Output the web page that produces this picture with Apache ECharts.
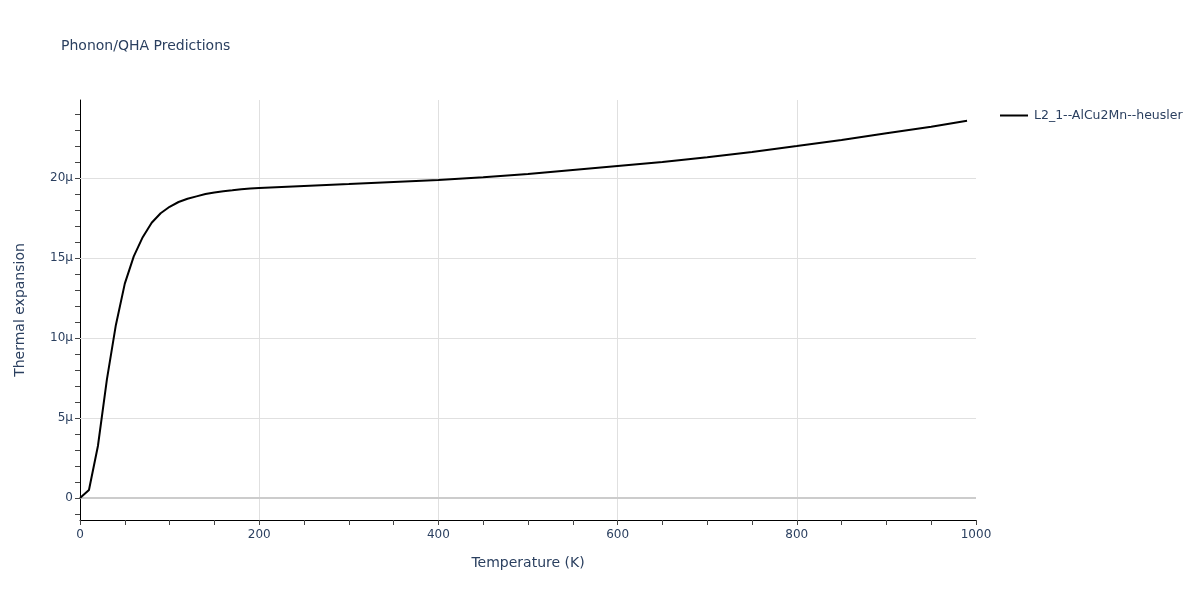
<!DOCTYPE html>
<html>
<head>
<meta charset="utf-8">
<script src="https://cdn.jsdelivr.net/npm/echarts@6/dist/echarts.min.js"></script>
<style>html,body{margin:0;padding:0;background:#fff}#c{width:1200px;height:600px}</style>
</head>
<body>
<div id="c"></div>
<script>
// Temperature (K)
const temperatures = [0,10,20,30,40,50,60,70,80,90,100,110,120,130,140,150,160,170,180,190,200,250,300,350,400,450,500,550,600,650,700,750,800,850,900,950,990];
// Thermal expansion in units of 1e-6 (μ)
const expansion = [0,0.5,3.25,7.4,10.8,13.4,15.1,16.3,17.2,17.8,18.2,18.5,18.7,18.85,19.0,19.1,19.17,19.23,19.3,19.35,19.38,19.5,19.62,19.75,19.88,20.05,20.25,20.5,20.75,21.0,21.3,21.63,22.0,22.38,22.8,23.2,23.58];
const seriesName = 'L2_1--AlCu2Mn--heusler';
const yTickLabels = [0,5,10,15,20];
const yMinorTicks = [-1,0,1,2,3,4,5,6,7,8,9,10,11,12,13,14,15,16,17,18,19,20,21,22,23,24];
const yGridLines = [5,10,15,20];

const font = '"DejaVu Sans", Verdana, sans-serif';
const txt = '#2a3f5f';
const chart = echarts.init(document.getElementById('c'));
chart.setOption({
  animation: false,
  backgroundColor: '#fff',
  textStyle: {fontFamily: font},
  title: {text: 'Phonon/QHA Predictions', left: 56, top: 34,
    textStyle: {fontFamily: font, fontSize: 14, fontWeight: 'normal', color: txt}},
  legend: {left: 995, top: 104, itemWidth: 28, itemHeight: 14, itemGap: 10,
    textStyle: {fontFamily: font, fontSize: 12.5, color: txt, padding: [0,0,0,1]},
    data: [{name: seriesName, icon: 'path://M0,6 L28,6 L28,8 L0,8 Z'}]},
  grid: {left: 80, right: 224, top: 100, bottom: 80, outerBoundsMode: 'none'},
  xAxis: {type: 'value', min: 0, max: 1000, interval: 200,
    name: 'Temperature (K)', nameLocation: 'middle', nameGap: 36,
    nameTextStyle: {fontFamily: font, fontSize: 14, color: txt},
    axisLine: {show: true, onZero: false, lineStyle: {color: '#000', width: 1}},
    axisTick: {show: true, length: 5, lineStyle: {color: '#444'}},
    minorTick: {show: true, splitNumber: 4, length: 5, lineStyle: {color: '#444'}},
    axisLabel: {margin: 9, fontFamily: font, fontSize: 12, color: txt, formatter: v => String(v)},
    splitLine: {show: true, showMinLine: false, showMaxLine: false, lineStyle: {color: '#e0e0e0', width: 1}}
  },
  yAxis: {type: 'value', min: -1.375, max: 24.875,
    name: 'Thermal expansion', nameLocation: 'middle', nameGap: 53,
    nameTextStyle: {fontFamily: font, fontSize: 14, color: txt},
    axisLine: {show: true, onZero: false, lineStyle: {color: '#000', width: 1}},
    axisTick: {show: true, length: 5, customValues: yMinorTicks, lineStyle: {color: '#444'}},
    axisLabel: {margin: 7, fontFamily: font, fontSize: 12, color: txt, customValues: yTickLabels,
      formatter: v => v === 0 ? '0' : v + 'μ'},
    splitLine: {show: false}
  },
  series: [
    {type: 'line', name: 'grid', silent: true, z: 1, data: [], symbol: 'none',
      markLine: {silent: true, symbol: ['none','none'], label: {show: false}, animation: false,
        data: yGridLines.map(v => ({yAxis: v, lineStyle: {color: '#e0e0e0', width: 1, type: 'solid'}}))
          .concat([{yAxis: 0, lineStyle: {color: '#cccccc', width: 2, type: 'solid'}}])}},
    {type: 'line', name: seriesName, z: 5, symbol: 'none', smooth: false,
      lineStyle: {color: '#000', width: 2}, itemStyle: {color: '#000'},
      data: temperatures.map((t, i) => [t, expansion[i]])}
  ]
});
</script>
</body>
</html>
